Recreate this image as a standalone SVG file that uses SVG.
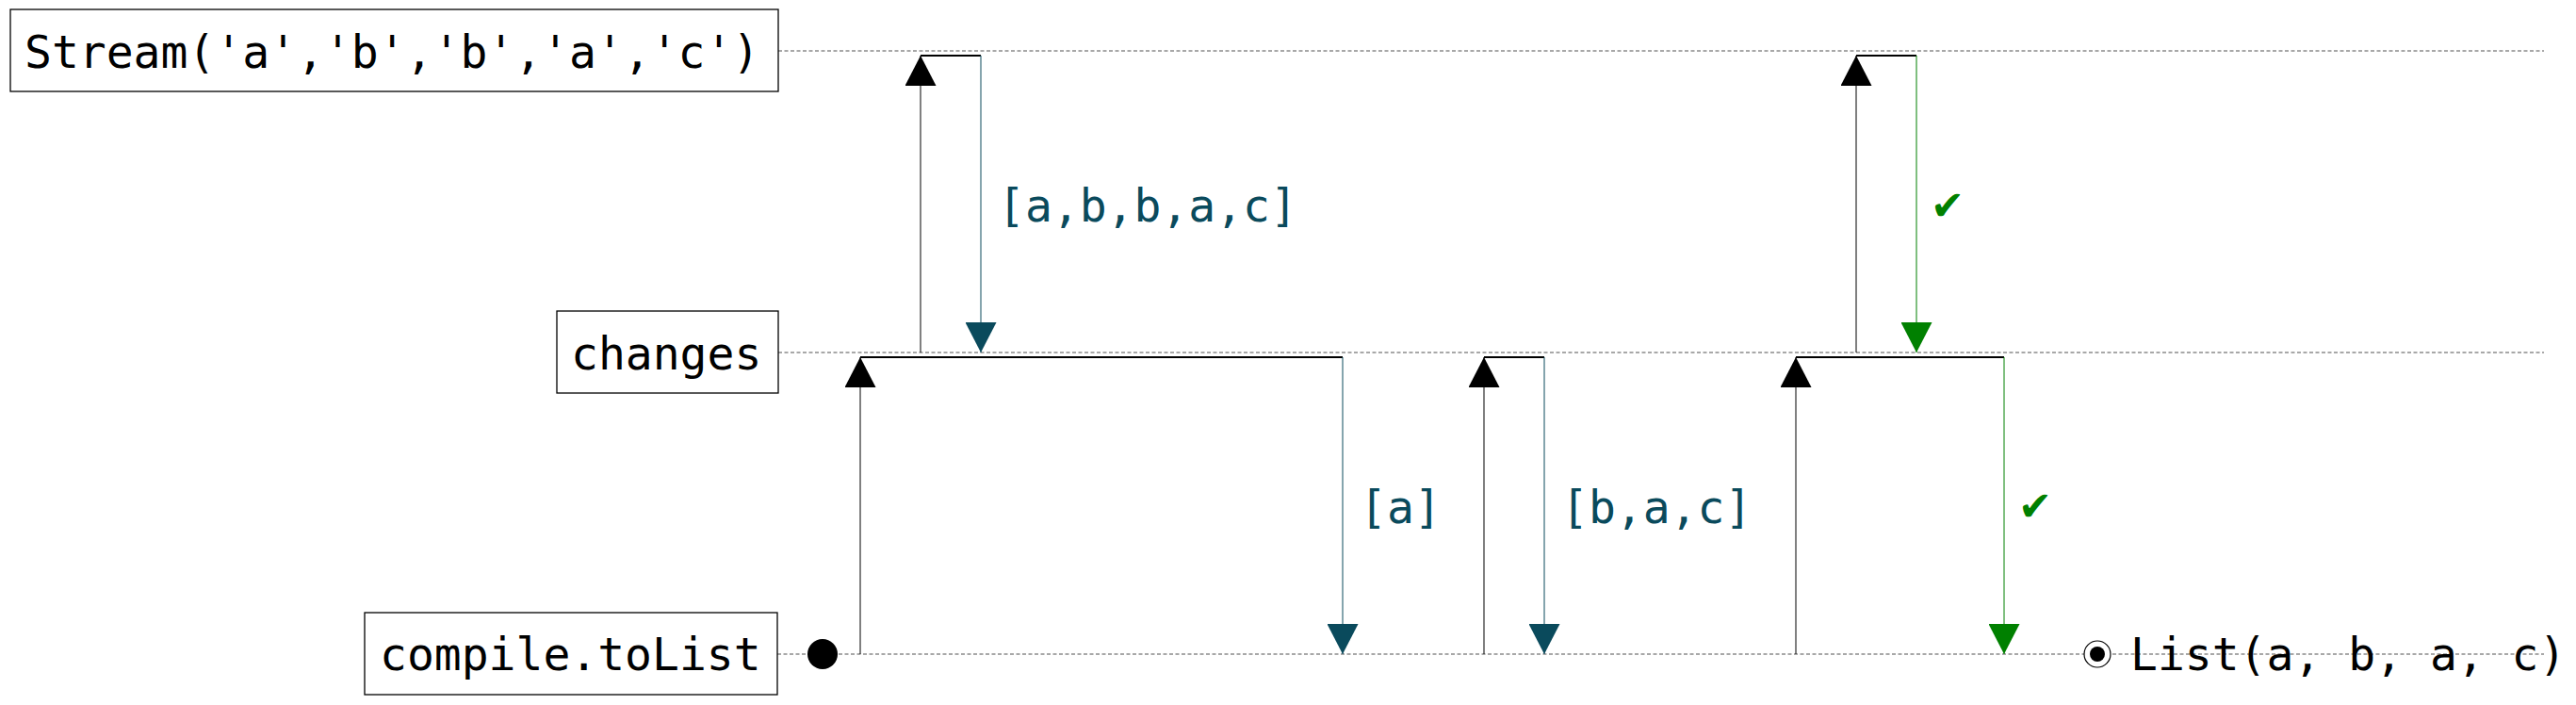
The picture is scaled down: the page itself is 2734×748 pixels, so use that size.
<svg xmlns="http://www.w3.org/2000/svg" width="2734" height="748" viewBox="0 0 2734 748">
<style>
.bg{fill:#ffffff}
.box{fill:#ffffff;stroke:#000000;stroke-width:1.3}
.name{font-family:"DejaVu Sans Mono","Liberation Mono",monospace;font-size:48px;fill:#000000}
.life{stroke:#8c8c8c;stroke-width:1.3;stroke-dasharray:4,2.5;fill:none}
.up{stroke:#000000;stroke-width:1;fill:none}
.bar{stroke:#000000;stroke-width:2;fill:none}
.dt{stroke:#0a4a5c;stroke-width:1;fill:none}
.dg{stroke:#008000;stroke-width:1;fill:none}
.lt{font-family:"DejaVu Sans Mono","Liberation Mono",monospace;font-size:48px;fill:#0a4a5c}
.lg{font-family:"DejaVu Sans","Noto Sans",sans-serif;font-size:43px;fill:#008000}
</style>
<defs>
<marker id="ab" viewBox="0 0 32 33" refX="32" refY="16.5" markerWidth="32" markerHeight="33" markerUnits="userSpaceOnUse" orient="auto"><path d="M0,0 L32,16.5 L0,33 z" fill="#000000"/></marker>
<marker id="at" viewBox="0 0 32 33" refX="32" refY="16.5" markerWidth="32" markerHeight="33" markerUnits="userSpaceOnUse" orient="auto"><path d="M0,0 L32,16.5 L0,33 z" fill="#0a4a5c"/></marker>
<marker id="ag" viewBox="0 0 32 33" refX="32" refY="16.5" markerWidth="32" markerHeight="33" markerUnits="userSpaceOnUse" orient="auto"><path d="M0,0 L32,16.5 L0,33 z" fill="#008000"/></marker>
</defs>
<rect class="bg" x="0" y="0" width="2734" height="748"/>
<g id="lifelines">
<line class="life" x1="826" y1="54" x2="2700" y2="54"/>
<line class="life" x1="826" y1="374" x2="2700" y2="374"/>
<line class="life" x1="825" y1="694" x2="2700" y2="694"/>
</g>
<g id="node-stream">
<rect class="box" x="11" y="10" width="815" height="87"/>
<text class="name" x="26" y="72">Stream('a','b','b','a','c')</text>
</g>
<g id="node-changes">
<rect class="box" x="591" y="330" width="235" height="87"/>
<text class="name" x="606" y="392">changes</text>
</g>
<g id="node-compile">
<rect class="box" x="387" y="650" width="438" height="87"/>
<text class="name" x="403" y="711">compile.toList</text>
</g>
<g id="start">
<circle cx="873" cy="694" r="16" fill="#000000"/>
</g>
<g id="result">
<circle cx="2226" cy="694" r="14" fill="#ffffff" stroke="#000000" stroke-width="1.2"/>
<circle cx="2226" cy="694" r="8" fill="#000000"/>
<text class="name" x="2261" y="711">List(a, b, a, c)</text>
</g>
<g id="connectors">
<line class="up" x1="977" y1="374" x2="977" y2="59" marker-end="url(#ab)"/>
<line class="bar" x1="977" y1="59" x2="1041" y2="59"/>
<line class="dt" x1="1041" y1="59" x2="1041" y2="374" marker-end="url(#at)"/>
<text class="lt" x="1059" y="235">[a,b,b,a,c]</text>

<line class="up" x1="913" y1="694" x2="913" y2="379" marker-end="url(#ab)"/>
<line class="bar" x1="913" y1="379" x2="1425" y2="379"/>
<line class="dt" x1="1425" y1="379" x2="1425" y2="694" marker-end="url(#at)"/>
<text class="lt" x="1443" y="555">[a]</text>

<line class="up" x1="1575" y1="694" x2="1575" y2="379" marker-end="url(#ab)"/>
<line class="bar" x1="1575" y1="379" x2="1639" y2="379"/>
<line class="dt" x1="1639" y1="379" x2="1639" y2="694" marker-end="url(#at)"/>
<text class="lt" x="1657" y="555">[b,a,c]</text>

<line class="up" x1="1970" y1="374" x2="1970" y2="59" marker-end="url(#ab)"/>
<line class="bar" x1="1970" y1="59" x2="2034" y2="59"/>
<line class="dg" x1="2034" y1="59" x2="2034" y2="374" marker-end="url(#ag)"/>
<text class="lg" x="2049" y="233">✔</text>

<line class="up" x1="1906" y1="694" x2="1906" y2="379" marker-end="url(#ab)"/>
<line class="bar" x1="1906" y1="379" x2="2127" y2="379"/>
<line class="dg" x1="2127" y1="379" x2="2127" y2="694" marker-end="url(#ag)"/>
<text class="lg" x="2142" y="552">✔</text>
</g>
</svg>
